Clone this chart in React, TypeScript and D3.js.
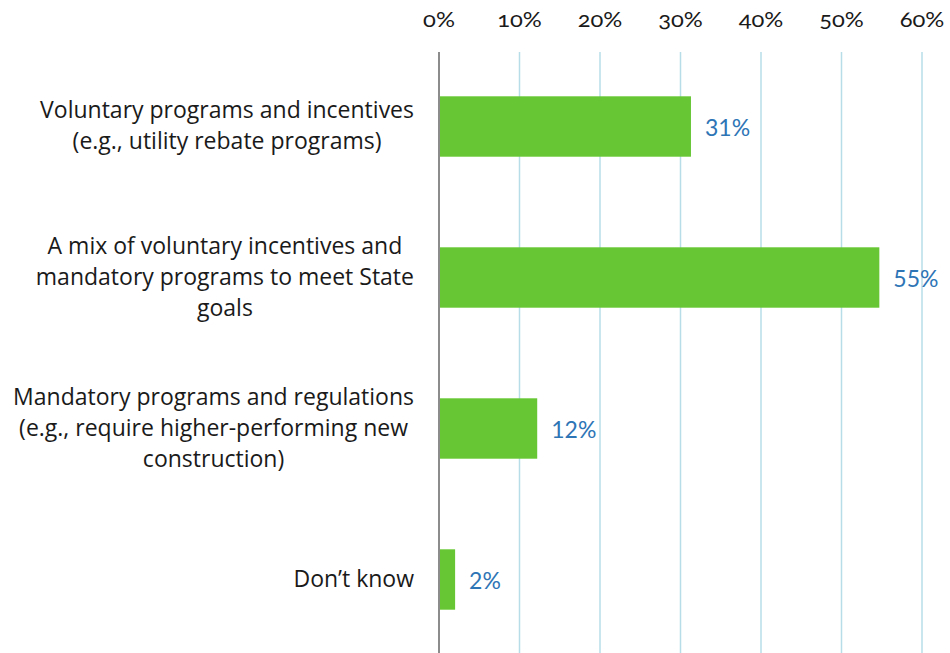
import React from "react";
import * as d3 from "d3";

const categories: string[][] = [
  ["Voluntary programs and incentives", "(e.g., utility rebate programs)"],
  ["A mix of voluntary incentives and", "mandatory programs to meet State", "goals"],
  ["Mandatory programs and regulations", "(e.g., require higher-performing new", "construction)"],
  ["Don\u2019t know"],
];
const values = [31.3, 54.7, 12.2, 2.0];
const valueLabels = ["31%", "55%", "12%", "2%"];
const tickValues = [0, 10, 20, 30, 40, 50, 60];

const W = 950;
const H = 653;
const LABEL_FONT = "'Open Sans', Lato, sans-serif";
const NUM_FONT = "Lato, 'Open Sans', sans-serif";
const LABEL_SIZE = 23;
const VALUE_SIZE = 23;
const TICK_SIZE = 22;
const TICK_SX = 1.08;
const LINE_H = 31;

function measure(text: string, size: number): number {
  const c = document.createElement("canvas");
  const ctx = c.getContext("2d")!;
  ctx.font = `${size}px 'Open Sans'`;
  return ctx.measureText(text).width;
}

export default function App() {
  const x = d3.scaleLinear().domain([0, 60]).range([439, 922]);
  const ids = categories.map((_, i) => String(i));
  const y = d3.scaleBand().domain(ids).range([51, 655]).paddingInner(0.6).paddingOuter(0.3);
  const labelRight = 414;

  return (
    <svg width={W} height={H} style={{ position: "absolute", left: 0, top: 0, background: "#fff" }}>
      {tickValues.map((t) => (
        <g key={t}>
          <line x1={x(t)} x2={x(t)} y1={52} y2={H} stroke={t === 0 ? "#8c8c8c" : "#b7dde8"} strokeWidth={t === 0 ? 2 : 1.5} />
          <text
            transform={`translate(${x(t)},27) scale(${TICK_SX},1)`}
            textAnchor="middle"
            fontFamily={NUM_FONT}
            fontSize={TICK_SIZE}
            fill="#1a1a1a"
            style={{ fontVariantNumeric: "oldstyle-nums" }}
          >
            {t}%
          </text>
        </g>
      ))}
      {values.map((v, i) => {
        const yy = y(String(i))!;
        return (
          <g key={i}>
            <rect x={x(0) + 1} y={yy} width={x(v) - x(0) - 1} height={y.bandwidth()} fill="#66c633" />
            <text
              x={x(v) + 14}
              y={yy + y.bandwidth() / 2 + 9}
              fontFamily={NUM_FONT}
              fontSize={VALUE_SIZE}
              fill="#2e75b6"
            >
              {valueLabels[i]}
            </text>
          </g>
        );
      })}
      {categories.map((lines, i) => {
        const cy = y(String(i))! + y.bandwidth() / 2;
        const widths = lines.map((l) => measure(l, LABEL_SIZE));
        const bw = Math.max(...widths);
        const cx = labelRight - bw / 2;
        const top = cy - ((lines.length - 1) * LINE_H) / 2;
        return (
          <text key={i} fontFamily={LABEL_FONT} fontSize={LABEL_SIZE} fill="#1a1a1a" textAnchor="middle">
            {lines.map((l, j) => (
              <tspan key={j} x={cx} y={top + j * LINE_H + 7}>
                {l}
              </tspan>
            ))}
          </text>
        );
      })}
    </svg>
  );
}
